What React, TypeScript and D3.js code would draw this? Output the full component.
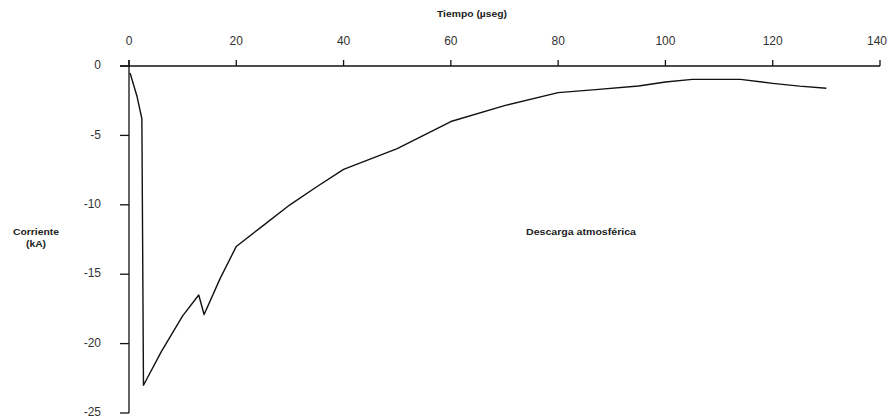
import * as d3 from 'd3';

// Time (µs) and current (kA)
const tiempo = [0.2, 1.5, 2.4, 2.7, 6, 10, 13, 14, 17, 20, 25, 30, 35, 40, 50, 60, 70, 80, 87, 95, 100, 105, 114, 120, 125, 130];
const corriente = [-0.5, -2.2, -3.8, -23.0, -20.6, -18.0, -16.5, -17.9, -15.3, -13.0, -11.5, -10.0, -8.7, -7.45, -5.95, -4.0, -2.85, -1.92, -1.7, -1.44, -1.15, -0.96, -0.96, -1.25, -1.45, -1.6];
const xTicks = [0, 20, 40, 60, 80, 100, 120, 140];
const yTicks = [0, -5, -10, -15, -20, -25];

const tituloX = 'Tiempo (µseg)';
const tituloY = ['Corriente', '(kA)'];
const leyenda = 'Descarga atmosférica';

export default function App() {
  const width = 890;
  const height = 420;
  const font = '"Liberation Sans", Arial, sans-serif';

  const x = d3.scaleLinear().domain([0, 140]).range([129, 880]);
  const y = d3.scaleLinear().domain([0, -25]).range([66, 413]);

  const data = tiempo.map((t, i) => ({ t, v: corriente[i] }));
  const line = d3.line<{ t: number; v: number }>()
    .x(d => x(d.t))
    .y(d => y(d.v));

  const axisColor = '#111';

  return (
    <svg
      width={width}
      height={height}
      style={{ position: 'absolute', left: 0, top: 0, background: '#fff' }}
      fontFamily={font}
    >
      {/* X axis (top) */}
      <line x1={120} x2={x(140)} y1={y(0)} y2={y(0)} stroke={axisColor} strokeWidth={1.3} />
      {xTicks.map(t => (
        <g key={t}>
          <line x1={x(t)} x2={x(t)} y1={y(0) - 6} y2={y(0)} stroke={axisColor} strokeWidth={1.3} />
          <text x={t === 140 ? x(t) - 3 : x(t)} y={42} textAnchor="middle" dominantBaseline="middle" fontSize={12} fill="#333">
            {t}
          </text>
        </g>
      ))}
      <text x={472} y={15} textAnchor="middle" dominantBaseline="middle" fontSize={9} fontWeight="bold" fill="#222"
        textLength={70} lengthAdjust="spacingAndGlyphs">
        {tituloX}
      </text>

      {/* Y axis */}
      <line x1={x(0)} x2={x(0)} y1={y(0) - 6} y2={y(-25)} stroke={axisColor} strokeWidth={1.3} />
      {yTicks.map(v => (
        <g key={v}>
          <line x1={120} x2={x(0)} y1={y(v)} y2={y(v)} stroke={axisColor} strokeWidth={1.3} />
          <text x={101} y={y(v)} textAnchor="end" dominantBaseline="middle" fontSize={12} fill="#333">
            {String(v)}
          </text>
        </g>
      ))}
      <text x={36} y={233} textAnchor="middle" dominantBaseline="middle" fontSize={8.5} fontWeight="bold" fill="#222"
        textLength={46} lengthAdjust="spacingAndGlyphs">
        {tituloY[0]}
      </text>
      <text x={36} y={245} textAnchor="middle" dominantBaseline="middle" fontSize={8.5} fontWeight="bold" fill="#222"
        textLength={20} lengthAdjust="spacingAndGlyphs">
        {tituloY[1]}
      </text>

      {/* Series */}
      <path d={line(data) ?? ''} fill="none" stroke="#111" strokeWidth={1.4} strokeLinejoin="round" />

      <text x={581} y={233} textAnchor="middle" dominantBaseline="middle" fontSize={9} fontWeight="bold" fill="#222"
        textLength={110} lengthAdjust="spacingAndGlyphs">
        {leyenda}
      </text>
    </svg>
  );
}
